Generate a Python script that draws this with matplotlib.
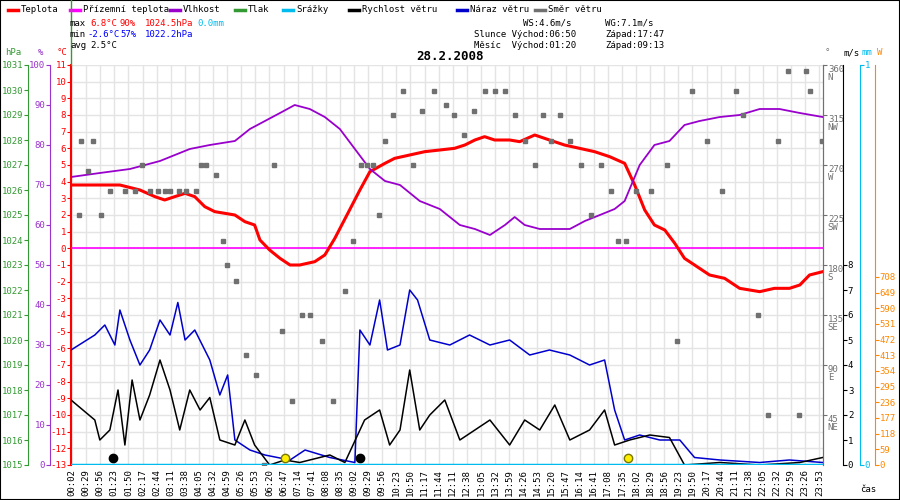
import matplotlib
matplotlib.use('Agg')
import matplotlib.pyplot as plt
import numpy as np

# ==== data (hours of day, values) ====
temp_t = [0, 1.04, 1.7, 2.19, 2.51, 2.84, 3.17, 3.49, 3.82, 4.15, 4.8, 5.13, 5.45, 5.62, 5.94, 6.27, 6.6, 6.92,
          7.41, 7.74, 8.07, 8.55, 8.88, 9.21, 9.7, 10.02, 10.51, 11.0, 11.49, 11.98, 12.31, 12.64, 12.96, 13.29,
          13.78, 14.1, 14.6, 15.08, 15.57, 16.06, 16.55, 17.04, 17.53, 17.86, 18.19, 18.51, 18.84, 19.17, 19.49,
          19.82, 20.31, 20.8, 21.29, 21.94, 22.43, 22.92, 23.25, 23.57, 24]
temp_v = [3.8, 3.8, 3.5, 3.1, 2.9, 3.1, 3.3, 3.1, 2.5, 2.2, 2.0, 1.6, 1.4, 0.5, -0.1, -0.6, -1.0, -1.0,
          -0.8, -0.4, 0.6, 2.3, 3.5, 4.6, 5.1, 5.4, 5.6, 5.8, 5.9, 6.0, 6.2, 6.5, 6.7, 6.5,
          6.5, 6.4, 6.8, 6.5, 6.2, 6.0, 5.8, 5.5, 5.1, 3.8, 2.3, 1.4, 1.1, 0.3, -0.6,
          -1.0, -1.6, -1.8, -2.4, -2.6, -2.4, -2.4, -2.2, -1.6, -1.4]

hum_t = [0, 0.39, 1.37, 2.35, 3.33, 3.98, 4.8, 5.29, 5.78, 6.27, 6.76, 7.25, 7.74, 8.23, 8.72, 9.21, 9.7, 10.19,
         10.84, 11.49, 12.15, 12.64, 13.13, 13.62, 13.94, 14.27, 14.76, 15.25, 15.74, 16.23, 16.72, 17.21, 17.53,
         18.02, 18.51, 19.0, 19.49, 19.98, 20.64, 21.29, 21.94, 22.59, 23.25, 24]
hum_v = [72, 73, 74, 76, 79, 80, 81, 84, 86, 88, 90, 89, 87, 84, 79, 74, 71, 70,
         66, 64, 60, 59, 57.5, 60, 62, 60, 59, 59, 59, 61, 62.5, 64, 66,
         75, 80, 81, 85, 86, 87, 87.5, 89, 89, 88, 87]

gust_t = [0, 0.23, 0.55, 0.88, 1.04, 1.37, 1.7, 2.02, 2.35, 2.68, 2.94, 3.17, 3.49, 3.98, 4.31, 4.57, 4.8, 5.29,
          5.78, 6.6, 7.09, 7.9, 8.72, 8.88, 9.21, 9.53, 9.79, 10.19, 10.51, 10.77, 11.17, 11.82, 12.47, 13.13,
          13.78, 14.43, 15.08, 15.74, 16.39, 16.88, 17.21, 17.53, 18.02, 18.68, 19.33, 19.82, 20.64, 21.94,
          22.92, 24]
gust_v = [4.6, 5.2, 5.6, 4.8, 6.2, 5.0, 4.0, 4.6, 5.8, 5.2, 6.5, 5.0, 5.4, 4.2, 2.8, 3.6, 1.0, 0.6,
          0.4, 0.2, 0.6, 0.3, 0.1, 5.4, 4.8, 6.6, 4.6, 4.8, 7.0, 6.6, 5.0, 4.8, 5.2, 4.8,
          5.0, 4.4, 4.6, 4.4, 4.0, 4.2, 2.2, 1.0, 1.2, 1.0, 1.0, 0.3, 0.2, 0.1,
          0.2, 0.1]

wind_t = [0, 0.23, 0.39, 0.72, 0.98, 1.21, 1.44, 1.7, 2.02, 2.35, 2.68, 3.0, 3.33, 3.66, 3.98, 4.31, 4.8, 5.13,
          5.45, 5.94, 6.43, 6.92, 7.9, 8.39, 9.04, 9.53, 9.86, 10.19, 10.51, 10.84, 11.17, 11.66, 12.15, 12.64,
          13.13, 13.78, 14.27, 14.76, 15.25, 15.74, 16.39, 16.88, 17.21, 17.7, 18.35, 19.0, 19.49, 20.64,
          21.94, 23.25, 24]
wind_v = [2.6, 1.8, 1.0, 1.4, 3.0, 0.8, 3.4, 1.8, 2.8, 4.2, 3.0, 1.4, 3.0, 2.2, 2.7, 1.0, 0.8, 1.8,
          0.8, 0.0, 0.2, 0.1, 0.4, 0.1, 1.8, 2.2, 0.8, 1.4, 3.8, 1.4, 2.0, 2.6, 1.0, 1.4,
          1.8, 0.8, 1.8, 1.4, 2.4, 1.0, 1.4, 2.2, 0.8, 1.0, 1.2, 1.1, 0.0, 0.1,
          0.0, 0.1, 0.3]

dir_t = [0.07, 0.13, 0.33, 0.52, 0.78, 1.04, 1.53, 1.86, 2.09, 2.35, 2.61, 2.84, 3.0, 3.27, 3.49, 3.82, 3.98, 4.15,
         4.47, 4.7, 4.83, 5.13, 5.45, 5.78, 6.01, 6.34, 6.6, 6.92, 7.25, 7.51, 7.9, 8.23, 8.62, 8.88, 9.14, 9.34,
         9.53, 9.73, 9.92, 10.19, 10.51, 10.84, 11.1, 11.49, 11.88, 12.15, 12.47, 12.8, 13.13, 13.45, 13.78,
         14.1, 14.43, 14.76, 15.02, 15.28, 15.57, 15.9, 16.23, 16.55, 16.88, 17.21, 17.44, 17.7, 18.02, 18.51,
         19.0, 19.33, 19.82, 20.31, 20.8, 21.23, 21.45, 21.94, 22.27, 22.59, 22.92, 23.25, 23.51, 23.64, 24]
dir_v = [225, 292, 265, 292, 225, 247, 247, 247, 270, 247, 247, 247, 247, 247, 247, 247, 270, 270,
         261, 202, 180, 166, 99, 81, 0, 270, 121, 58, 135, 135, 112, 58, 157, 202, 270, 270,
         270, 225, 292, 315, 337, 270, 319, 337, 324, 315, 297, 319, 337, 337, 337,
         315, 292, 270, 315, 292, 315, 292, 270, 225, 270, 247, 202, 202, 247, 247,
         270, 112, 337, 292, 247, 337, 315, 135, 45, 292, 355, 45, 355, 337, 292]

sun_t = [6.83, 17.78]    # slunce východ / západ
moon_t = [1.33, 9.22]    # měsíc východ / západ


# times above were read against a wrong left edge; recalibrate to the real plot frame
def _cal(ts):
    out = [round(0.54 + 0.977 * t, 2) for t in ts]
    out[0] = 0.0
    return out


temp_t, hum_t, gust_t, wind_t = map(_cal, [temp_t, hum_t, gust_t, wind_t])
dir_t = [round(0.2 + 0.99 * t, 2) for t in dir_t]

time_labels = ['%02d:%02d' % divmod(2 + 27 * k, 60) for k in range(54)]
time_pos = [(2 + 27 * k) / 60 for k in range(54)]

plt.rcParams['font.family'] = 'DejaVu Sans Mono'
plt.rcParams['font.size'] = 6.5
plt.rcParams['axes.unicode_minus'] = False

fig = plt.figure(figsize=(9, 5), dpi=100)
L, R, B, T = 71 / 900, 823 / 900, 35 / 500, 435 / 500
ax = fig.add_axes([L, B, R - L, T - B])
ax.set_xlim(0, 24)
ax.set_ylim(-13, 11)

# grid
for p in time_pos:
    ax.axvline(p, color='#e4e4e4', lw=1, zorder=0)
for v in range(-13, 12):
    ax.axhline(v, color='#e4e4e4', lw=1, zorder=0)

ax.set_xticks(time_pos)
ax.set_xticklabels(time_labels, rotation=90)
ax.set_yticks(range(-13, 12))
ax.tick_params(axis='y', colors='red', labelcolor='red', length=3, pad=0.5, labelsize=6.5)
ax.tick_params(axis='x', length=0, pad=3)
ax.spines['left'].set_color('red')
ax.spines['left'].set_linewidth(1.5)
ax.spines['top'].set_visible(False)
ax.spines['bottom'].set_visible(False)
ax.spines['right'].set_color('#707070')


def side_axis(pos, color, lim, ticks, labels=None, left=True):
    a = ax.twinx()
    a.set_ylim(*lim)
    for s in ['top', 'bottom', 'left', 'right']:
        a.spines[s].set_visible(False)
    side = 'left' if left else 'right'
    a.spines[side].set_visible(True)
    a.spines[side].set_position(('axes', pos))
    a.spines[side].set_color(color)
    if left:
        a.yaxis.tick_left()
    a.set_yticks(ticks)
    if labels is not None:
        a.set_yticklabels(labels)
    a.tick_params(axis='y', colors=color, labelcolor=color, length=3, pad=0.5, labelsize=6.5)
    return a


ax_p = side_axis(-0.0572, '#339933', (1015, 1031), range(1015, 1032))
ax_h = side_axis(-0.0279, '#9933cc', (0, 100), range(0, 101, 10))
compass = ['', 'NE', 'E', 'SE', 'S', 'SW', 'W', 'NW', 'N']
ax_d = side_axis(1.0, '#707070', (0, 360), range(45, 361, 45),
                 ['%d\n%s' % (d, compass[d // 45]) for d in range(45, 361, 45)], left=False)
for lbl in ax_d.get_yticklabels():
    lbl.set_va('top')
    lbl.set_linespacing(0.9)
ax_w = side_axis(1.0266, 'black', (0, 16), range(0, 9), left=False)
ax_mm = side_axis(1.049, '#00bbee', (0, 1), [0, 1], left=False)
w_ticks = [0, 59, 118, 177, 236, 295, 354, 413, 472, 531, 590, 649, 708]
ax_sol = side_axis(1.069, '#ff8800', (0, 1506), w_ticks, left=False)
for a in [ax_p, ax_h, ax_d, ax_w, ax_mm, ax_sol]:
    a.set_xlim(0, 24)

# data
ax_d.plot(dir_t, dir_v, 's', color='#707070', ms=3.5, zorder=3)
ax.axhline(0, color='#ff00ff', lw=1.2, zorder=4)
ax_h.plot(hum_t, hum_v, color='#9900cc', lw=1.3, zorder=5)
ax.plot(temp_t, temp_v, color='red', lw=2.2, zorder=6)
ax_w.plot(gust_t, gust_v, color='#0000cc', lw=1.1, zorder=5)
ax_w.plot(wind_t, wind_v, color='black', lw=1.1, zorder=6)
ax_mm.axhline(0, color='#00bbee', lw=2.5, zorder=7)
ax_w.plot(sun_t, [0.3, 0.3], 'o', color='#ffee00', mec='#777700', ms=6, zorder=8, clip_on=False)
ax_w.plot(moon_t, [0.3, 0.3], 'o', color='black', ms=6, zorder=8, clip_on=False)

# headers
fig.text(5 / 900, 1 - 55 / 500, 'hPa', color='#339933')
fig.text(38 / 900, 1 - 55 / 500, '%', color='#9933cc')
fig.text(57 / 900, 1 - 55 / 500, '°C', color='red')
fig.text(825 / 900, 1 - 55 / 500, '°', color='#707070')
fig.text(843 / 900, 1 - 55 / 500, 'm/s', color='black')
fig.text(862 / 900, 1 - 55 / 500, 'mm', color='#00bbee')
fig.text(877 / 900, 1 - 55 / 500, 'W', color='#ff8800')
fig.text(860 / 900, 1 - 492 / 500, 'čas', color='black')
fig.text(450 / 900, 1 - 60 / 500, '28.2.2008', fontsize=9, weight='bold', ha='center')

# legend row
legend_items = [('Teplota', 'red'), ('Přízemní teplota', '#ff00ff'), ('Vlhkost', '#9900cc'),
                ('Tlak', '#339933'), ('Srážky', '#00bbee'), ('Rychlost větru', 'black'),
                ('Náraz větru', '#0000cc'), ('Směr větru', '#707070')]
legend_x = [8, 70, 170, 235, 283, 349, 457, 535]
for (name, col), lx in zip(legend_items, legend_x):
    fig.add_artist(plt.Line2D([lx / 900, (lx + 10) / 900], [1 - 10 / 500] * 2, color=col, lw=2.5))
    fig.text((lx + 13) / 900, 1 - 10 / 500, name, va='center')
fig.add_artist(plt.Line2D([71 / 900] * 2, [1 - 65 / 500, 1.0], color='#339933', lw=1))

# stats
y1, y2, y3 = 1 - 26 / 500, 1 - 37 / 500, 1 - 48 / 500
fig.text(70 / 900, y1, 'max'); fig.text(90 / 900, y1, '6.8°C', color='red')
fig.text(120 / 900, y1, '90%', color='red'); fig.text(145 / 900, y1, '1024.5hPa', color='red')
fig.text(197 / 900, y1, '0.0mm', color='#00bbee')
fig.text(70 / 900, y2, 'min'); fig.text(87 / 900, y2, '-2.6°C', color='blue')
fig.text(120 / 900, y2, '57%', color='blue'); fig.text(145 / 900, y2, '1022.2hPa', color='blue')
fig.text(70 / 900, y3, 'avg'); fig.text(90 / 900, y3, '2.5°C')
fig.text(523 / 900, y1, 'WS:4.6m/s'); fig.text(605 / 900, y1, 'WG:7.1m/s')
fig.text(474 / 900, y2, 'Slunce Východ:06:50'); fig.text(605 / 900, y2, 'Západ:17:47')
fig.text(474 / 900, y3, 'Měsíc  Východ:01:20'); fig.text(605 / 900, y3, 'Západ:09:13')

fig.add_artist(plt.Rectangle((0, 0), 1, 1, fill=False, ec='black', lw=1.5, transform=fig.transFigure))
fig.savefig('out.png', dpi=100)
